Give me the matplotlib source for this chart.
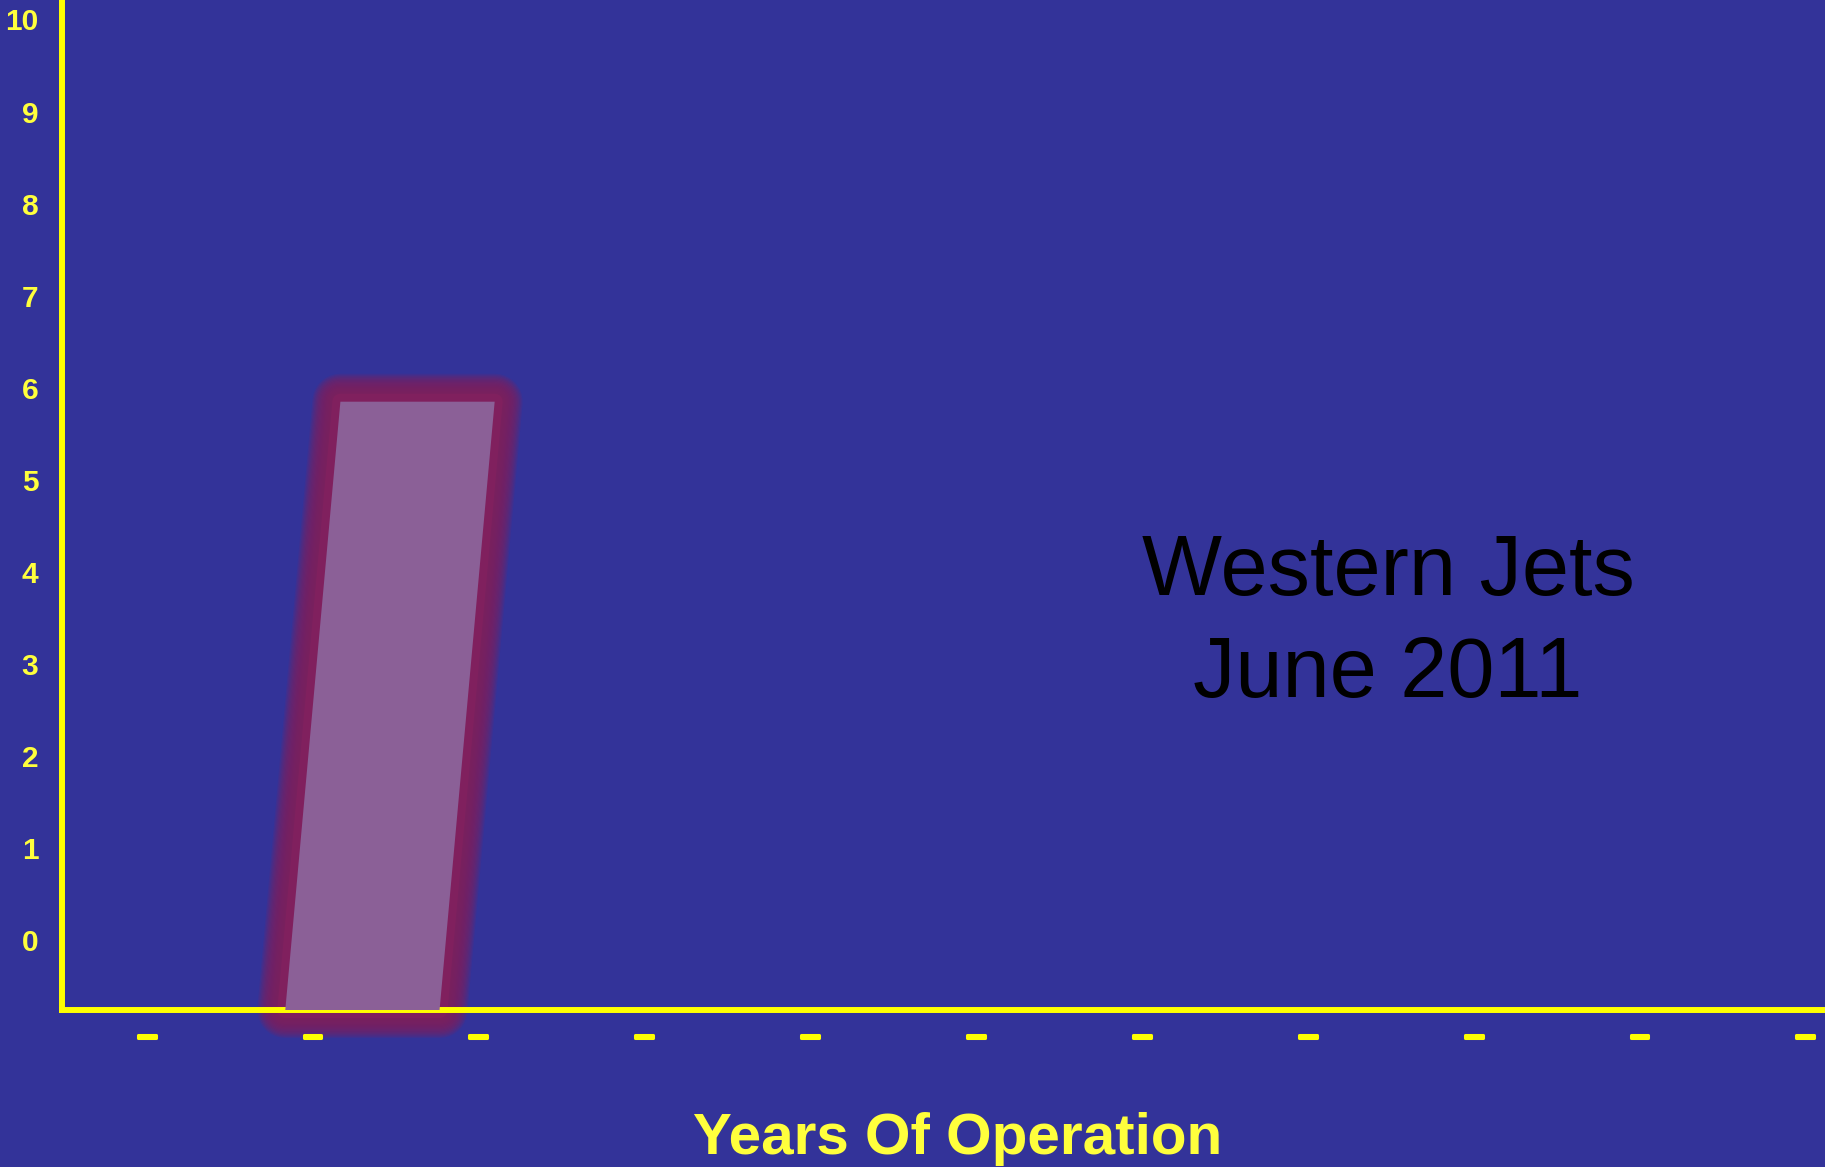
import numpy as np
import matplotlib.pyplot as plt
import matplotlib.patheffects as pe
from matplotlib.transforms import Affine2D

plt.rcParams['font.family'] = ['Liberation Sans', 'DejaVu Sans']

# tick data
y_ticks = list(range(0, 11))
x_ticks = list(range(0, 11))
x_tick_labels = ['\u2013'] * len(x_ticks)

# the one column that is drawn (between the 2nd and 3rd dash)
bar_x = [1.5]
bar_top = [5.85]
base = -0.755

title_lines = 'Western Jets\nJune 2011'
x_title = 'Years Of Operation'

bg = '#333399'
yellow = '#ffff00'
txt_yellow = '#ffff3c'
glow = '#80205e'
fill = '#8b6097'

fig = plt.figure(figsize=(18.25, 11.67), dpi=100, facecolor=bg)
ax = fig.add_axes([62 / 1825, 1 - 1010 / 1167, 1760 / 1825, 1008 / 1167])
ax.set_facecolor(bg)
ax.set_xlim(-0.51, 10.1)
ax.set_ylim(base, 10.19)

# slanted look of the column
k = 0.0503
pivot = 3.2
skew = Affine2D().translate(0, -pivot).skew(np.arctan(k), 0).translate(0, pivot) + ax.transData

heights = [t - base for t in bar_top]


def slanted(bars, round_join=False):
    for p in bars:
        p.set_transform(skew)
        if round_join:
            p.set_joinstyle('round')


# soft glow around the column
for half_px in np.linspace(28, 6, 20):
    bars = ax.bar(bar_x, heights, bottom=base, width=0.93, color='none',
                  edgecolor=glow, linewidth=2 * half_px * 0.72, alpha=0.15,
                  zorder=3, clip_on=False)
    slanted(bars, True)
bars = ax.bar(bar_x, heights, bottom=base, width=0.93, color='none',
              edgecolor=glow, linewidth=16 * 0.72, zorder=3, clip_on=False)
slanted(bars, True)

bars = ax.bar(bar_x, heights, bottom=base, width=0.93, color=fill,
              linewidth=0, zorder=4, clip_on=False)
slanted(bars)

# axes styling
for s in ['top', 'right']:
    ax.spines[s].set_visible(False)
for s in ['left', 'bottom']:
    ax.spines[s].set_color(yellow)
    ax.spines[s].set_linewidth(4.3)
ax.spines['bottom'].set_zorder(3.5)

ax.set_yticks(y_ticks)
ax.set_yticklabels([str(v) for v in y_ticks])
ax.set_xticks(x_ticks)
ax.set_xticklabels(x_tick_labels)
ax.tick_params(axis='y', length=0, pad=17, labelsize=21.5, labelcolor=txt_yellow)
ax.tick_params(axis='x', length=0, pad=6.5, labelsize=26, labelcolor=yellow)
for lab in ax.get_yticklabels() + ax.get_xticklabels():
    lab.set_fontweight('bold')
for lab in ax.get_xticklabels():
    lab.set_path_effects([pe.withStroke(linewidth=2.2, foreground=yellow)])
ax.xaxis.set_zorder(3.6)

ax.set_xlabel(x_title, fontsize=42, fontweight='bold', color=txt_yellow)
ax.xaxis.set_label_coords(0.509, -0.1429)
ax.xaxis.label.set_verticalalignment('baseline')

ax.text(0.7534, 0.3108, title_lines, transform=ax.transAxes, ha='center',
        va='baseline', multialignment='center', linespacing=1.35,
        fontsize=61, color='black')

fig.savefig('out.png', dpi=100, facecolor=bg)
